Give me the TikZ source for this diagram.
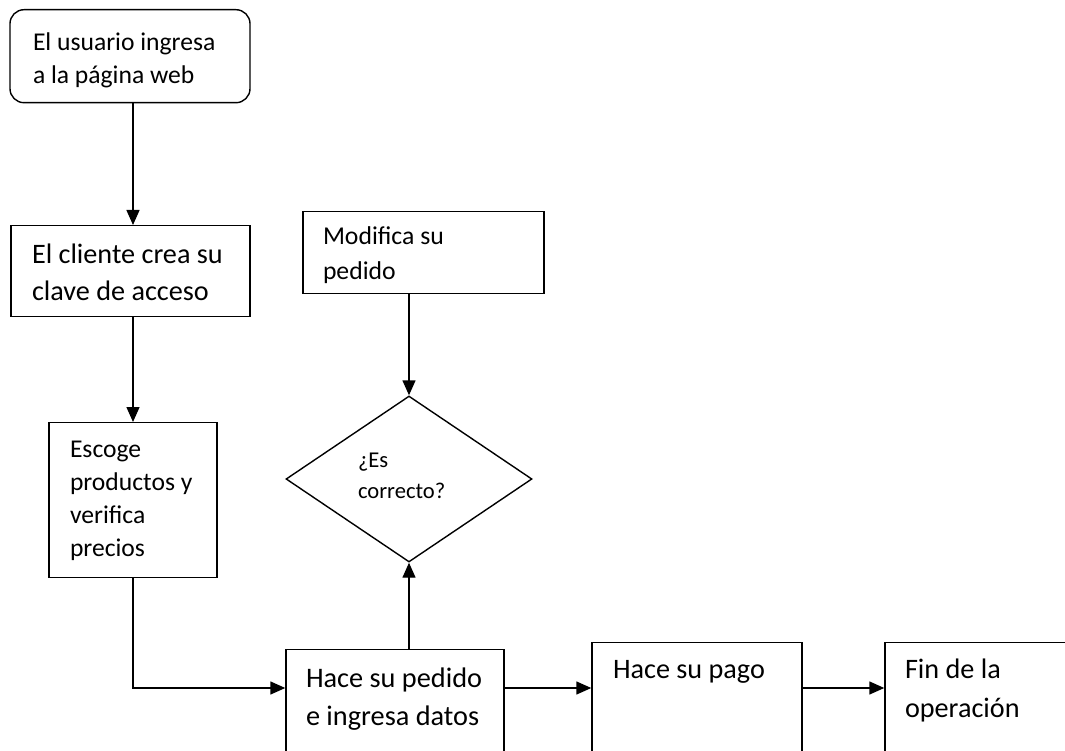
\documentclass[tikz,border=0pt]{standalone}
\usepackage{fontspec}
\setmainfont{Carlito}
\usetikzlibrary{arrows.meta,shapes.geometric}

\begin{document}
\begin{tikzpicture}[x=1pt, y=-1pt, line width=1.4pt, >={Triangle[length=15pt,width=13pt]},
	stepbox/.style={draw, anchor=north, align=flush left, inner ysep=0pt, inner xsep=21pt},
	decision/.style={draw, diamond, inner sep=0pt, align=flush left, minimum width=246pt, minimum height=154pt}]
	\path[use as bounding box, clip] (0,0) rectangle (1065,751);
	\fill[white] (0,0) rectangle (1065,751);
	\coordinate (fila) at (0,688);
	\node[stepbox, rounded corners=14pt, inner xsep=23pt, text width=194pt, text height=41pt, text depth=52pt, font={\fontsize{25.6}{33}\selectfont}] (ini) at (130,9) {El usuario ingresa\\a la página web};
	\node[stepbox, text width=197pt, text height=38pt, text depth=53pt, font={\fontsize{28.2}{37}\selectfont}] (cli) at (130.5,225) {El cliente crea su\\clave de acceso};
	\node[stepbox, text width=126pt, text height=35pt, text depth=120pt, font={\fontsize{25.6}{33}\selectfont}] (esc) at (133,422) {Escoge\\productos y\\verifica\\precios};
	\node[stepbox, inner xsep=20pt, text width=201pt, text height=33pt, text depth=49pt, font={\fontsize{25.7}{35}\selectfont}] (mod) at (423.5,211) {Modifica su\\pedido};
	\node[decision, text width=102pt, text height=20pt, text depth=44pt, font={\fontsize{22.6}{31}\selectfont}] (dec) at (409,479) {¿Es\\correcto?};
	\node[stepbox, inner xsep=20pt, text width=178pt, text height=38pt, text depth=150pt, font={\fontsize{28.3}{38}\selectfont}] (ped) at (395,649) {Hace su pedido\\e ingresa datos};
	\node[stepbox, text width=168pt, text height=36pt, text depth=150pt, font={\fontsize{28.2}{38}\selectfont}] (pago) at (697,642) {Hace su pago};
	\node[stepbox, inner xsep=20pt, text width=170pt, text height=36pt, text depth=150pt, font={\fontsize{28.2}{39}\selectfont}] (fin) at (990,642) {Fin de la\\operación};
	\draw[->] (ini.south -| esc.north) -- (cli.north -| esc.north);
	\draw[->] (cli.south -| esc.north) -- (esc.north);
	\draw[->] (esc.south) |- (ped.west |- fila);
	\draw[->] (mod.south -| dec.north) -- (dec.north);
	\draw[->] (ped.north -| dec.south) -- (dec.south);
	\draw[->] (ped.east |- fila) -- (pago.west |- fila);
	\draw[->] (pago.east |- fila) -- (fin.west |- fila);
\end{tikzpicture}
\end{document}
